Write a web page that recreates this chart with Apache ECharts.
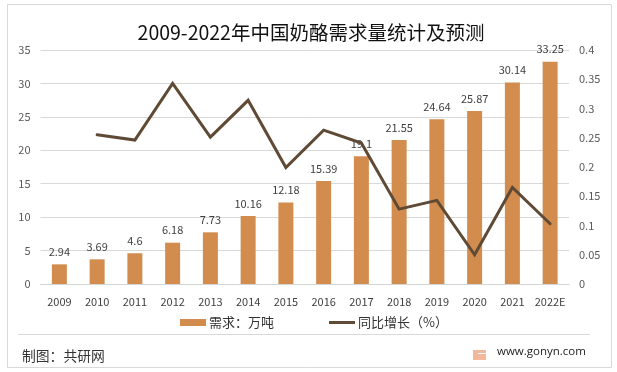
<!DOCTYPE html>
<html><head><meta charset="utf-8">
<style>html,body{margin:0;padding:0;background:#fff}#c{width:617px;height:372px}</style>
<script src="https://cdn.jsdelivr.net/npm/echarts@6/dist/echarts.min.js"></script>
</head><body><div id="c"></div>
<script>
const years=['2009','2010','2011','2012','2013','2014','2015','2016','2017','2018','2019','2020','2021','2022E'];
const demand=[2.94,3.69,4.6,6.18,7.73,10.16,12.18,15.39,19.1,21.55,24.64,25.87,30.14,33.25];
const growth=[null,0.255,0.246,0.343,0.251,0.314,0.199,0.263,0.241,0.128,0.143,0.05,0.165,0.103];
const barName='需求\uFF1A万吨';
const lineName='同比增长\uFF08%\uFF09';
const sourceText='制图\uFF1A共研网';
const FONT='"Noto Sans CJK SC","Noto Sans",sans-serif';
const chart=echarts.init(document.getElementById('c'),null,{renderer:'canvas'});
chart.setOption({
 animation:false,
 backgroundColor:'#fff',
 textStyle:{fontFamily:FONT},
 title:{text:'2009-2022年中国奶酪需求量统计及预测',left:306,top:14,textAlign:'center',
  textStyle:{fontSize:19.5,fontWeight:'normal',color:'#111',fontFamily:FONT,lineHeight:28}},
 grid:{left:40.5,right:48,top:50,bottom:88,containLabel:false},
 legend:{top:311,left:175,itemGap:55,itemWidth:26,itemHeight:7,
  textStyle:{fontSize:13,color:'#333',fontFamily:FONT,padding:[0,0,0,-2]},
  data:[{name:barName,icon:'rect'},
        {name:lineName,icon:'path://M0 0h.01v.01z M0 2h26v3H0z M26 7h-.01v-.01z'}]},
 xAxis:{type:'category',data:years,axisTick:{show:false},
  axisLine:{lineStyle:{color:'#d4d4d4',width:1}},
  axisLabel:{fontSize:11,color:'#404040',margin:12,fontFamily:FONT,interval:0}},
 yAxis:[
  {type:'value',min:0,max:35,interval:5,axisLine:{show:false},axisTick:{show:false},
   axisLabel:{fontSize:11,color:'#595959',margin:10,fontFamily:FONT},
   splitLine:{lineStyle:{color:'#d9d9d9',width:1}}},
  {type:'value',min:0,max:0.4,interval:0.05,axisLine:{show:false},axisTick:{show:false},
   axisLabel:{fontSize:11,color:'#595959',margin:10,fontFamily:FONT},splitLine:{show:false}}
 ],
 series:[
  {name:barName,type:'bar',data:demand,barWidth:15,itemStyle:{color:'#D28C4E'},
   label:{show:true,position:'top',distance:7,fontSize:11,color:'#404040',fontFamily:FONT}},
  {name:lineName,type:'line',yAxisIndex:1,data:growth,symbol:'none',smooth:false,z:5,
   lineStyle:{color:'#5F4A36',width:3,cap:'round',join:'miter'},itemStyle:{color:'#5F4A36'}}
 ],
 graphic:[
  {type:'rect',z:-1,shape:{x:7.5,y:4.5,width:604,height:363},style:{fill:'none',stroke:'#d9d9d9',lineWidth:1}},
  {type:'line',shape:{x1:18,y1:334.5,x2:590,y2:334.5},style:{stroke:'#d9d9d9',lineWidth:1}},
  {type:'text',left:22,top:349,style:{text:sourceText,fontSize:13.8,fill:'#333',fontFamily:FONT}},
  {type:'rect',shape:{x:473,y:350,width:13,height:10},style:{fill:'#F3B79A'}},
  {type:'line',shape:{x1:478,y1:353.5,x2:486,y2:353.5},style:{stroke:'#fff',lineWidth:1}},
  {type:'text',left:497,top:346,style:{text:'www.gonyn.com',fontSize:11.5,fill:'#222',fontFamily:'"Open Sans",sans-serif'}}
 ]
});
</script></body></html>
